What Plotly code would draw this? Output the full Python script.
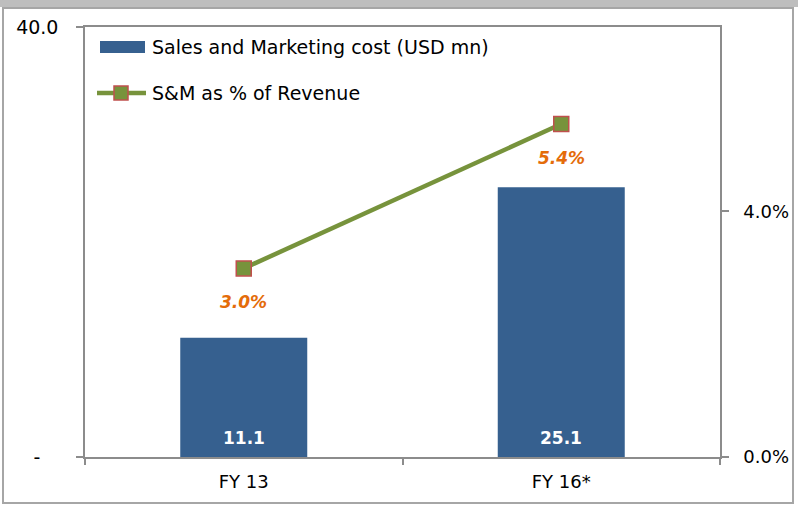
import plotly.graph_objects as go

categories = ["FY 13", "FY 16*"]
sm_cost = [11.1, 25.1]
sm_pct = [3.07, 5.42]
cost_labels = ["11.1", "25.1"]
pct_labels = ["3.0%", "5.4%"]
left_tickvals = [0, 40]
left_ticktext = ["-\u00a0\u00a0\u00a0", "40.0"]
right_tickvals = [0, 4]
right_ticktext = ["0.0%", "4.0%"]
legend_names = ["Sales and Marketing cost (USD mn)", "S&M as % of Revenue"]

BAR = "#36608F"
GREEN = "#77933C"
RED = "#C0504D"
ORANGE = "#E46C0A"
AXIS = "#8C8C8C"
FONT = "DejaVu Sans"

W, H = 798, 505
ML, MR, MT, MB = 85, 78, 27, 48
PW, PH = W - ML - MR, H - MT - MB


def px_x(p):
    return (p - ML) / PW


def px_y(p):
    return (H - MB - p) / PH


fig = go.Figure()
fig.add_trace(go.Bar(
    x=categories, y=sm_cost, name=legend_names[0],
    marker=dict(color=BAR, line=dict(width=0)),
    showlegend=False, yaxis="y", hoverinfo="skip",
))
fig.add_trace(go.Scatter(
    x=categories, y=sm_pct, name=legend_names[1], mode="lines+markers",
    line=dict(color=GREEN, width=4.5),
    marker=dict(symbol="square", size=15, color=GREEN, line=dict(color=RED, width=1.5)),
    showlegend=False, yaxis="y2", hoverinfo="skip",
))

annotations = []
for c, t in zip(categories, cost_labels):
    annotations.append(dict(
        x=c, y=0, xref="x", yref="y", text=t, showarrow=False, yshift=19,
        yanchor="middle",
        font=dict(family=FONT, size=17, color="white", weight="bold"),
    ))
for c, v, t in zip(categories, sm_pct, pct_labels):
    annotations.append(dict(
        x=c, y=v, xref="x", yref="y2", text=t, showarrow=False, yshift=-34,
        yanchor="middle",
        font=dict(family=FONT, size=17, color=ORANGE, weight="bold", style="italic"),
    ))

# manual legend
annotations.append(dict(x=px_x(150), y=px_y(47), xref="paper", yref="paper", text=legend_names[0],
                        showarrow=False, xanchor="left", yanchor="middle",
                        font=dict(family=FONT, size=19, color="black")))
annotations.append(dict(x=px_x(150), y=px_y(93), xref="paper", yref="paper", text=legend_names[1],
                        showarrow=False, xanchor="left", yanchor="middle",
                        font=dict(family=FONT, size=19, color="black")))

shapes = [
    # top grey band
    dict(type="rect", xref="paper", yref="paper", x0=px_x(0), x1=px_x(W), y0=px_y(7), y1=px_y(0),
         fillcolor="#BEBEBE", line=dict(width=0), layer="below"),
    # outer frame
    dict(type="rect", xref="paper", yref="paper", x0=px_x(3), x1=px_x(793), y0=px_y(503), y1=px_y(8),
         line=dict(color="#A6A6A6", width=2), fillcolor="rgba(0,0,0,0)", layer="below"),
    # legend swatches
    dict(type="rect", xref="paper", yref="paper", x0=px_x(100), x1=px_x(145), y0=px_y(53), y1=px_y(41),
         fillcolor=BAR, line=dict(width=0)),
    dict(type="line", xref="paper", yref="paper", x0=px_x(97), x1=px_x(146), y0=px_y(93), y1=px_y(93),
         line=dict(color=GREEN, width=4.5)),
    dict(type="rect", xref="paper", yref="paper", xsizemode="pixel", ysizemode="pixel",
         xanchor=px_x(121), yanchor=px_y(93), x0=-7, x1=7, y0=-7, y1=7,
         fillcolor=GREEN, line=dict(color=RED, width=1.5)),
]

fig.update_layout(
    width=W, height=H, autosize=False,
    margin=dict(l=ML, r=MR, t=MT, b=MB, pad=0, autoexpand=False),
    paper_bgcolor="white", plot_bgcolor="white",
    font=dict(family=FONT, size=18, color="black"),
    bargap=0.6,
    showlegend=False,
    hovermode=False,
    xaxis=dict(
        type="category", showline=True, linecolor=AXIS, linewidth=1.5, mirror=True,
        ticks="outside", tickson="boundaries", ticklen=6, tickcolor=AXIS, tickwidth=1.5,
        showgrid=False, tickfont=dict(family=FONT, size=18), ticklabelstandoff=8,
        automargin=False, fixedrange=True,
    ),
    yaxis=dict(
        range=[0, 40], tickvals=left_tickvals, ticktext=left_ticktext,
        showline=True, linecolor=AXIS, linewidth=1.5, ticks="outside", ticklen=7,
        tickcolor=AXIS, tickwidth=1.5, showgrid=False, zeroline=False,
        tickfont=dict(family=FONT, size=19), ticklabelstandoff=14,
        automargin=False, fixedrange=True,
    ),
    yaxis2=dict(
        range=[0, 7], tickvals=right_tickvals, ticktext=right_ticktext,
        overlaying="y", side="right", showline=True, linecolor=AXIS, linewidth=1.5,
        ticks="outside", ticklen=7, tickcolor=AXIS, tickwidth=1.5, showgrid=False,
        zeroline=False, tickfont=dict(family=FONT, size=18), ticklabelstandoff=11,
        automargin=False, fixedrange=True,
    ),
    annotations=annotations,
    shapes=shapes,
)

fig.write_html(
    "out.html",
    config=dict(displayModeBar=False, staticPlot=False),
    post_script="document.body.style.margin='0';document.body.style.overflow='hidden';",
)
